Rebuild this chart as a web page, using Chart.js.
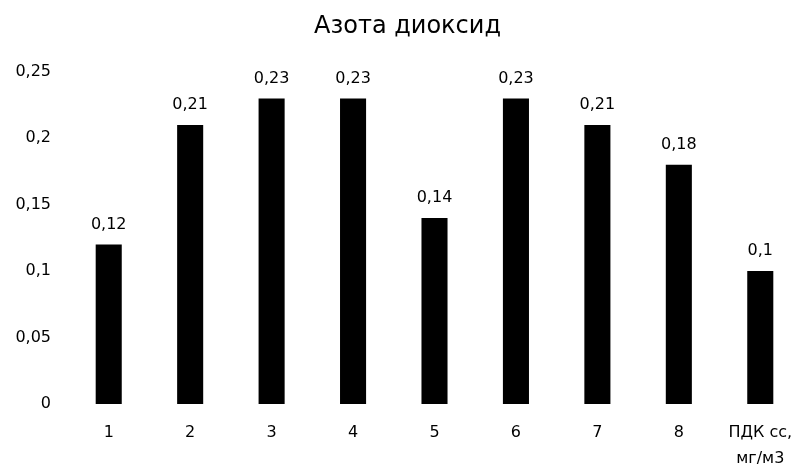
<!DOCTYPE html>
<html>
<head>
<meta charset="utf-8">
<script src="https://cdn.jsdelivr.net/npm/chart.js@4/dist/chart.umd.min.js"></script>
<style>
  html, body { margin: 0; padding: 0; background: #fff; overflow: hidden; }
  #wrap { width: 801px; height: 468px; }
</style>
</head>
<body>
<div id="wrap"><canvas id="chart" width="801" height="468" style="width:801px;height:468px"></canvas></div>
<script>
// данные
const categories = ['1', '2', '3', '4', '5', '6', '7', '8', ['ПДК сс,', 'мг/м3']];
const values = [0.12, 0.21, 0.23, 0.23, 0.14, 0.23, 0.21, 0.18, 0.1];
const yTicks = [0, 0.05, 0.1, 0.15, 0.2, 0.25];

const FONT = '"DejaVu Sans", sans-serif';

function fmt(v) {
    return String(Math.round(v * 100) / 100).replace('.', ',');
}

// подписи значений над столбцами
const valueLabels = {
    id: 'valueLabels',
    afterDatasetsDraw(chart) {
        const ctx = chart.ctx;
        const meta = chart.getDatasetMeta(0);
        ctx.save();
        ctx.fillStyle = '#000';
        ctx.font = '16px ' + FONT;
        ctx.textAlign = 'center';
        ctx.textBaseline = 'bottom';
        meta.data.forEach(function (bar, i) {
            ctx.fillText(fmt(values[i]), bar.x, bar.y - 12);
        });
        ctx.restore();
    }
};

document.addEventListener('DOMContentLoaded', function () {
    const ctx = document.getElementById('chart').getContext('2d');
    new Chart(ctx, {
        type: 'bar',
        data: {
            labels: categories,
            datasets: [{
                data: values,
                backgroundColor: '#000',
                barPercentage: 0.32,
                categoryPercentage: 1.0
            }]
        },
        options: {
            responsive: false,
            animation: false,
            layout: { padding: { left: 14, right: 0, top: 0, bottom: 1 } },
            plugins: {
                legend: { display: false },
                tooltip: { enabled: false },
                title: {
                    display: true,
                    text: 'Азота диоксид',
                    color: '#000',
                    font: { family: FONT, size: 24, weight: 'normal' },
                    padding: { top: 12, bottom: 31 }
                }
            },
            scales: {
                x: {
                    grid: { display: false, drawTicks: false },
                    border: { display: false },
                    afterFit(axis) {
                        axis.height = 63;
                        axis.paddingLeft = 0;
                        axis.paddingRight = 0;
                    },
                    ticks: {
                        color: '#000',
                        font: { family: FONT, size: 16, lineHeight: 1.6 },
                        maxRotation: 0,
                        autoSkip: false,
                        padding: 16
                    }
                },
                y: {
                    min: 0,
                    max: 0.25,
                    afterBuildTicks(axis) {
                        axis.ticks = yTicks.map(function (v) { return { value: v }; });
                    },
                    afterFit(axis) { axis.width = 54; },
                    grid: { display: false, drawTicks: false },
                    border: { display: false },
                    ticks: {
                        color: '#000',
                        font: { family: FONT, size: 16 },
                        padding: 17,
                        callback: function (v) { return fmt(v); }
                    }
                }
            }
        },
        plugins: [valueLabels]
    });
});
</script>
</body>
</html>
